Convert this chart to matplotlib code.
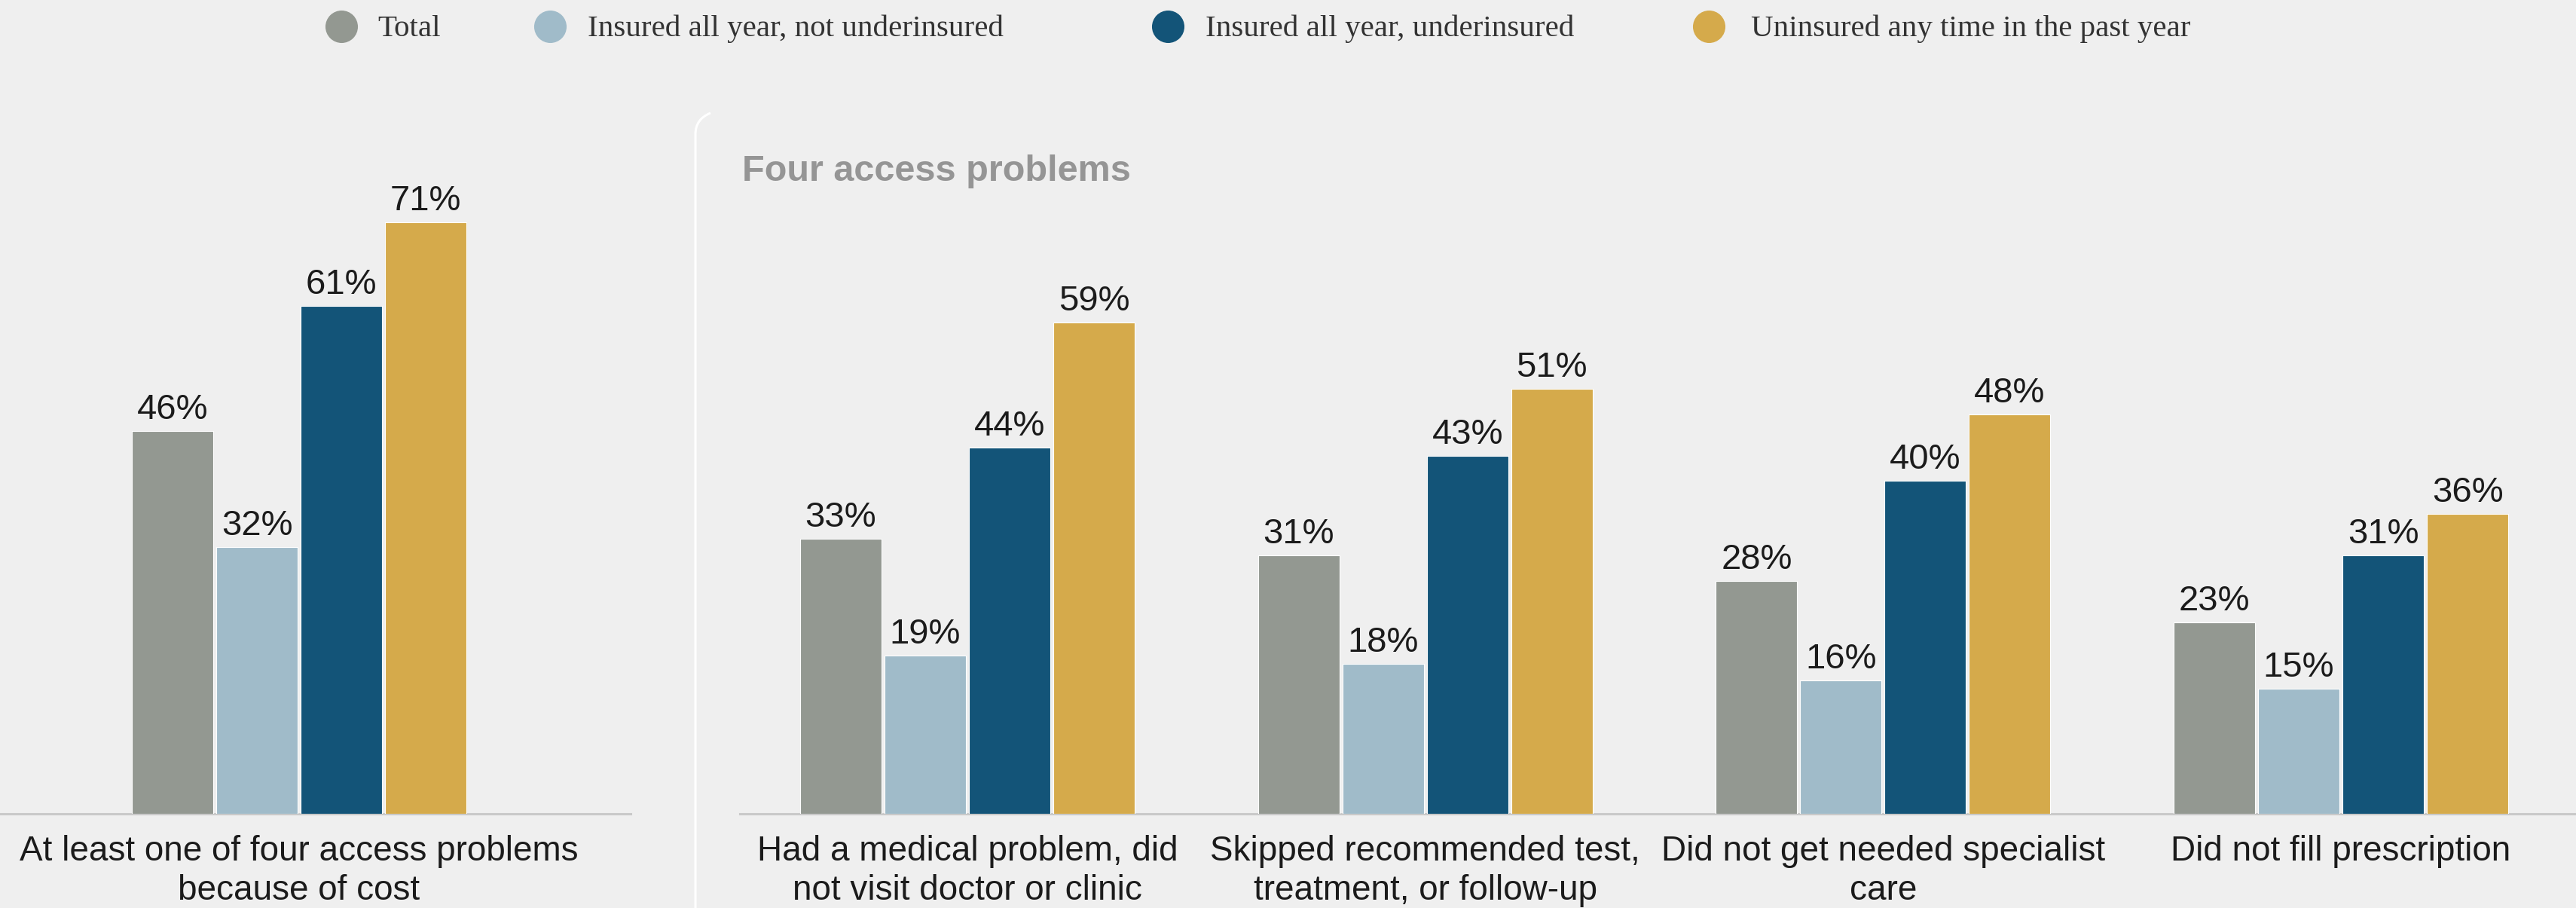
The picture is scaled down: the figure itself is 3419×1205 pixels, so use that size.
import matplotlib
matplotlib.use("Agg")
import matplotlib.pyplot as plt
from matplotlib.lines import Line2D
from matplotlib.path import Path
from matplotlib.patches import PathPatch
import numpy as np

# ---------------- data ----------------
summary_category = ["At least one of four access problems\nbecause of cost"]
problem_categories = [
    "Had a medical problem, did\nnot visit doctor or clinic",
    "Skipped recommended test,\ntreatment, or follow-up",
    "Did not get needed specialist\ncare",
    "Did not fill prescription",
]
series_names = [
    "Total",
    "Insured all year, not underinsured",
    "Insured all year, underinsured",
    "Uninsured any time in the past year",
]
# first value = summary panel, remaining four = access problems
total = [46, 33, 31, 28, 23]
insured_not_under = [32, 19, 18, 16, 15]
insured_under = [61, 44, 43, 40, 31]
uninsured = [71, 59, 51, 48, 36]
panel_title = "Four access problems"

series_values = [total, insured_not_under, insured_under, uninsured]
colors = ["#939891", "#a0bbc9", "#135478", "#d5aa4b"]
BG = "#efefef"
TXT = "#1b1b1b"

SANS = ["Liberation Sans", "DejaVu Sans"]
SERIF = ["Liberation Serif", "DejaVu Serif"]
plt.rcParams["font.family"] = SANS

W, H = 3419, 1205
DPI = 100
fig = plt.figure(figsize=(W / DPI, H / DPI), dpi=DPI, facecolor=BG)


def fx(px):
    return px / W


def fy(py):
    return 1 - py / H


base = 1080
top = 100
ax_h = (base - top) / H
unit = 607.7          # px per category slot
step = 112 / unit
width = 108 / unit
ymax = (base - top) / 11.05

axL = fig.add_axes([0, fy(base), 837 / W, ax_h])
axR = fig.add_axes([982 / W, fy(base), (W - 982) / W, ax_h])

panels = [
    (axL, summary_category, slice(0, 1), (-397 / unit, (837 - 397) / unit)),
    (axR, problem_categories, slice(1, 5), ((982 - 1284) / unit, (W - 1284) / unit)),
]

for ax, cats, sl, xlim in panels:
    ax.set_facecolor(BG)
    centers = np.arange(len(cats))
    for j, (vals, col) in enumerate(zip(series_values, colors)):
        v = vals[sl]
        x = centers + (j - 1.5) * step
        ax.bar(x, v, width=width, color=col, edgecolor="white", linewidth=0.8, zorder=3)
        for xi, vi in zip(x, v):
            ax.annotate(f"{vi}%", (xi, vi), xytext=(0, 11.5), textcoords="offset points",
                        ha="center", va="baseline", fontsize=34, color=TXT,
                        family=SANS)
    for c, lab in zip(centers, cats):
        ax.annotate(lab, (c, 0), xytext=(0, -20), textcoords="offset points",
                    ha="center", va="top", fontsize=33, color=TXT, linespacing=1.23,
                    annotation_clip=False, family=SANS)
    ax.set_xlim(*xlim)
    ax.set_ylim(0, ymax)
    for s in ["left", "right", "top"]:
        ax.spines[s].set_visible(False)
    ax.spines["bottom"].set_color("#c9c9c9")
    ax.spines["bottom"].set_linewidth(2.2)
    ax.spines["bottom"].set_zorder(2)
    ax.set_xticks([])
    ax.set_yticks([])

# panel title
fig.text(fx(985), fy(240), panel_title, fontsize=35, fontweight="bold",
         color="#959595", va="baseline", ha="left", family=SANS)

# panel divider with rounded top corner
verts = [(fx(923), fy(1205)), (fx(923), fy(178)), (fx(923), fy(158)), (fx(943), fy(150))]
codes = [Path.MOVETO, Path.LINETO, Path.CURVE3, Path.CURVE3]
fig.add_artist(PathPatch(Path(verts, codes), transform=fig.transFigure,
                         facecolor="none", edgecolor="white", linewidth=2.2))

# legend
legend_pos = [(453, 501), (730, 780), (1550, 1600), (2268, 2324)]
for (cx, tx), name, col in zip(legend_pos, series_names, colors):
    fig.add_artist(Line2D([fx(cx)], [fy(35)], marker="o", markersize=31,
                          markerfacecolor=col, markeredgecolor="none",
                          linestyle="none", transform=fig.transFigure))
    fig.text(fx(tx), fy(48), name, fontsize=29.5, color="#333333",
             va="baseline", ha="left", family=SERIF)

fig.savefig("out.png", dpi=DPI, facecolor=BG)
